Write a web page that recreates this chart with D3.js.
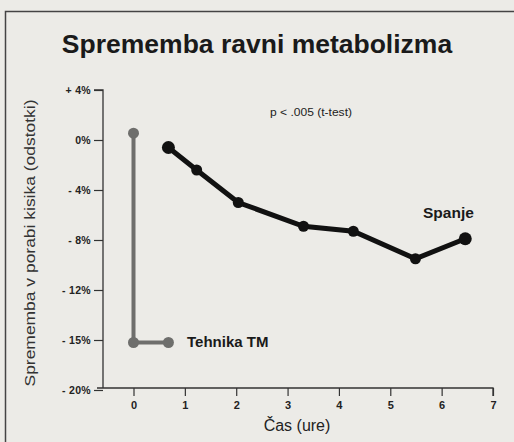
<!DOCTYPE html>
<html><head><meta charset="utf-8">
<script src="https://cdn.jsdelivr.net/npm/d3@7"></script>
<style>html,body{margin:0;padding:0;background:#ecebe7;}svg{display:block;}</style>
</head><body>
<script>
const yTickValues = [4, 0, -4, -8, -12, -16, -20];
const yTickLabels = ["+ 4%", "0%", "- 4%", "- 8%", "- 12%", "- 15%", "- 20%"];
const xTickValues = [0, 1, 2, 3, 4, 5, 6, 7];
const tmTimes = [0, 0, 0.68];
const tmValues = [0.55, -16.2, -16.2];
const sleepTimes = [0.68, 1.23, 2.04, 3.31, 4.28, 5.49, 6.46];
const sleepValues = [-0.6, -2.4, -5.0, -6.9, -7.3, -9.5, -7.9];
const title = "Sprememba ravni metabolizma";
const yTitle = "Sprememba v porabi kisika (odstotki)";
const xTitle = "Čas (ure)";
const note = "p < .005 (t-test)";

const W = 514, H = 442;
const FF = "Liberation Sans, Arial, sans-serif";
const svg = d3.select("body").append("svg").attr("width", W).attr("height", H);
svg.append("rect").attr("width", W).attr("height", H).attr("fill", "#ecebe7");
svg.append("path").attr("d", "M5.5,442 V11.5 H514").attr("fill", "none").attr("stroke", "#444").attr("stroke-width", 1.5);

const x = d3.scaleLinear().domain([0, 7]).range([133.5, 493]);
const y = d3.scaleLinear().domain([-20, 4]).range([390, 90]);

svg.append("text").attr("x", 257).attr("y", 53).attr("text-anchor", "middle")
  .attr("font-family", FF).attr("font-weight", "bold")
  .attr("font-size", 26.5).attr("fill", "#1a1a1a").text(title);

const yAxis = d3.axisLeft(y).tickValues(yTickValues).tickSize(9).tickPadding(3)
  .tickFormat((d, i) => yTickLabels[i]);
const gy = svg.append("g").attr("transform", "translate(103,0)").call(yAxis);
gy.select(".domain").attr("d", "M-9," + y(4) + "H0V" + 388).attr("stroke", "#333").attr("stroke-width", 1.3);
gy.selectAll(".tick line").attr("stroke", "#333").attr("stroke-width", 1.2);
gy.selectAll(".tick text").attr("font-family", FF).attr("font-weight", "bold")
  .attr("font-size", 10.5).attr("letter-spacing", 0.3).attr("fill", "#222");

const xAxis = d3.axisBottom(x).tickValues(xTickValues).tickSize(8).tickPadding(5).tickFormat(d3.format("d"));
const gx = svg.append("g").attr("transform", "translate(0,388)").call(xAxis);
gx.select(".domain").attr("d", "M97,0H493V8").attr("stroke", "#333").attr("stroke-width", 1.3);
gx.selectAll(".tick line").attr("stroke", "#333").attr("stroke-width", 1.2);
gx.selectAll(".tick text").attr("font-family", FF).attr("font-weight", "bold")
  .attr("font-size", 11).attr("fill", "#222");

svg.append("text").attr("x", 297).attr("y", 431).attr("text-anchor", "middle")
  .attr("font-family", FF).attr("font-size", 16).attr("fill", "#222").text(xTitle);

svg.append("text").attr("transform", "translate(35,243) rotate(-90)").attr("text-anchor", "middle")
  .attr("font-family", FF).attr("font-size", 15).attr("fill", "#333")
  .attr("textLength", 287).attr("lengthAdjust", "spacingAndGlyphs").text(yTitle);

svg.append("text").attr("x", 270).attr("y", 116)
  .attr("font-family", FF).attr("font-size", 10).attr("fill", "#222")
  .attr("textLength", 82).attr("lengthAdjust", "spacingAndGlyphs").text(note);

const line = d3.line().x(d => x(d[0])).y(d => y(d[1]));
const tm = tmTimes.map((t, i) => [t, tmValues[i]]);
const sl = sleepTimes.map((t, i) => [t, sleepValues[i]]);

svg.append("path").datum(tm).attr("d", line).attr("fill", "none").attr("stroke", "#6e6e6c").attr("stroke-width", 4);
svg.selectAll("circle.tm").data(tm).enter().append("circle").attr("class", "tm")
  .attr("cx", d => x(d[0])).attr("cy", d => y(d[1])).attr("r", 5.5).attr("fill", "#6e6e6c");

svg.append("path").datum(sl).attr("d", line).attr("fill", "none").attr("stroke", "#111").attr("stroke-width", 5);
svg.selectAll("circle.sl").data(sl).enter().append("circle").attr("class", "sl")
  .attr("cx", d => x(d[0])).attr("cy", d => y(d[1]))
  .attr("r", (d, i) => (i === 0 || i === sl.length - 1) ? 6.5 : 5.5).attr("fill", "#111");

svg.append("text").attr("x", 187).attr("y", 347)
  .attr("font-family", FF).attr("font-weight", "bold").attr("font-size", 15)
  .attr("fill", "#1a1a1a").text("Tehnika TM");
svg.append("text").attr("x", 423).attr("y", 218)
  .attr("font-family", FF).attr("font-weight", "bold").attr("font-size", 15.5)
  .attr("fill", "#1a1a1a").text("Spanje");
</script>
</body></html>
